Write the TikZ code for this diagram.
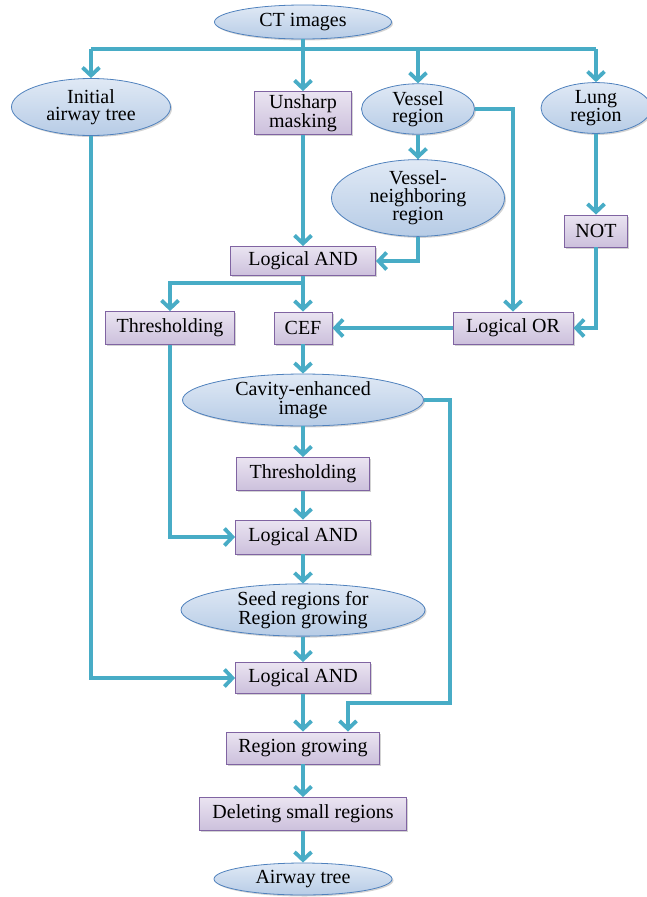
\documentclass[tikz,border=0pt]{standalone}
\usepackage{fontspec}
\setmainfont{Liberation Serif}
\usetikzlibrary{arrows.meta,shapes.geometric,shadows}
\definecolor{arrc}{RGB}{72,172,198}
\definecolor{boxtop}{RGB}{234,228,241}
\definecolor{boxbot}{RGB}{204,192,220}
\definecolor{boxline}{RGB}{128,100,162}
\definecolor{elltop}{RGB}{224,233,245}
\definecolor{ellbot}{RGB}{183,204,230}
\definecolor{ellline}{RGB}{79,129,189}
\tikzset{
  txt/.style={font=\fontsize{20}{17.5}\selectfont, align=center, inner sep=0pt},
  boxn/.style={txt, rectangle, draw=boxline, line width=0.9pt, top color=boxtop, bottom color=boxbot,
    drop shadow={opacity=0.35, shadow xshift=1.5pt, shadow yshift=-1.5pt}},
  elln/.style={txt, ellipse, draw=ellline, line width=0.8pt, top color=elltop, bottom color=ellbot,
    drop shadow={opacity=0.35, shadow xshift=1.5pt, shadow yshift=-1.5pt}},
  line/.style={draw=arrc, line width=3.8pt, line join=miter},
  arr/.style={line, -{Straight Barb[length=8pt,width=17pt]}},
}
\begin{document}
\begin{tikzpicture}[x=1pt,y=-1pt]
\useasboundingbox (0,0) rectangle (646,897);
% nodes
\node[elln, minimum width=177, minimum height=34] (ct) at (303,22) {CT images};
\node[elln, minimum width=159, minimum height=57] (iat) at (91,107) {Initial\\airway tree};
\node[boxn, minimum width=97, minimum height=43] (usm) at (303,113) {Unsharp\\masking};
\node[elln, minimum width=113, minimum height=48] (vr) at (418,109) {Vessel\\region};
\node[elln, minimum width=110, minimum height=50] (lr) at (596,108) {Lung\\region};
\node[elln, minimum width=173, minimum height=63] (vnr) at (418,198) {Vessel-\\neighboring\\region};
\node[boxn, minimum width=63, minimum height=32] (not) at (596,231) {NOT};
\node[boxn, minimum width=145, minimum height=29] (and1) at (303,261) {Logical AND};
\node[boxn, minimum width=129, minimum height=33] (thr1) at (170,328) {Thresholding};
\node[boxn, minimum width=58, minimum height=32] (cef) at (303,328) {CEF};
\node[boxn, minimum width=120, minimum height=32] (lor) at (513,328) {Logical OR};
\node[elln, minimum width=241, minimum height=45] (cav) at (303,400) {Cavity-enhanced\\image};
\node[boxn, minimum width=133, minimum height=33] (thr2) at (303,474) {Thresholding};
\node[boxn, minimum width=135, minimum height=34] (and2) at (303,537) {Logical AND};
\node[elln, minimum width=244, minimum height=46] (seed) at (303,610) {Seed regions for\\Region growing};
\node[boxn, minimum width=135, minimum height=31] (and3) at (303,678) {Logical AND};
\node[boxn, minimum width=153, minimum height=32] (rg) at (303,748) {Region growing};
\node[boxn, minimum width=207, minimum height=33] (del) at (303,814) {Deleting small regions};
\node[elln, minimum width=178, minimum height=32] (at) at (303,879) {Airway tree};
% coordinates
\coordinate (busL) at (91,49);
\coordinate (busR) at (596,49);
\coordinate (split) at (303,283);
\coordinate (cavR) at (450,703);
% connectors
\draw[line] (busL) -- (busR);
\draw[arr] (ct.south) -- (usm.north);
\draw[arr] (busL) -- (iat.north);
\draw[arr] (vr.north |- busL) -- (vr.north);
\draw[arr] (busR) -- (lr.north);
\draw[arr] (vr.south) -- (vnr.north);
\draw[arr] (usm.south) -- (and1.north);
\draw[arr] (vnr.south) |- (and1.east);
\draw[arr] (vr.east) -| (lor.north);
\draw[arr] (lr.south) -- (not.north);
\draw[arr] (not.south) |- (lor.east);
\draw[arr] (lor.west) -- (cef.east);
\draw[arr] (and1.south) -- (cef.north);
\draw[arr] (split) -| (thr1.north);
\draw[arr] (cef.south) -- (cav.north);
\draw[arr] (cav.south) -- (thr2.north);
\draw[arr] (thr2.south) -- (and2.north);
\draw[arr] (thr1.south) |- (and2.west);
\draw[arr] (and2.south) -- (seed.north);
\draw[arr] (seed.south) -- (and3.north);
\draw[arr] (iat.south) |- (and3.west);
\draw[arr] (and3.south) -- (rg.north);
\draw[arr] (cav.east) -| (cavR) -| ([xshift=45pt]rg.north);
\draw[arr] (rg.south) -- (del.north);
\draw[arr] (del.south) -- (at.north);
\end{tikzpicture}
\end{document}
